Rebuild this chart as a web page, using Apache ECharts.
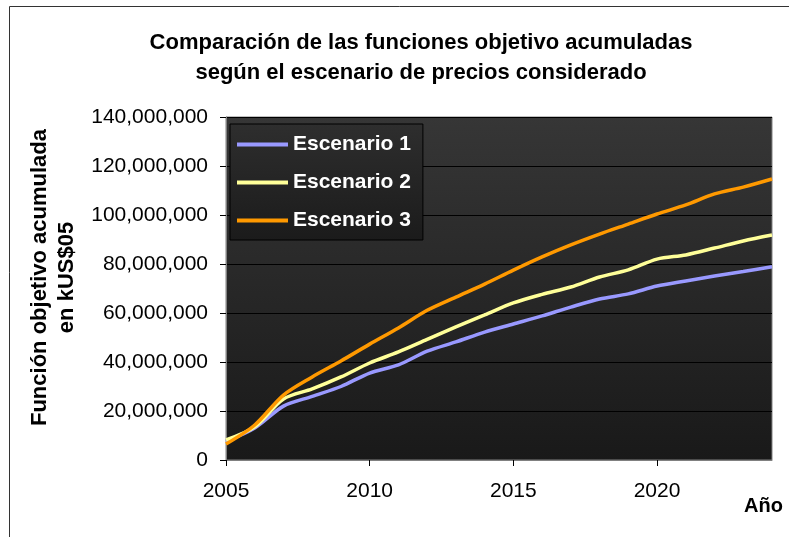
<!DOCTYPE html>
<html>
<head>
<meta charset="utf-8">
<script src="https://cdn.jsdelivr.net/npm/echarts@6/dist/echarts.min.js"></script>
<style>
  html, body { margin: 0; padding: 0; background: #fff; }
  #main { width: 789px; height: 537px; }
</style>
</head>
<body>
<div id="main"></div>
<script>
// años y valores (millones de kUS$05)
var years = [2005, 2006, 2007, 2008, 2009, 2010, 2011, 2012, 2013, 2014,
  2015, 2016, 2017, 2018, 2019, 2020, 2021, 2022, 2023, 2024];
var escenario1 = [7.6, 13.1, 22.0, 26.0, 30.0, 35.5, 38.8, 44.4, 48.2, 52.2,
  55.5, 58.8, 62.4, 65.7, 67.8, 71.0, 73.1, 75.1, 76.9, 78.9];
var escenario2 = [8.2, 13.5, 24.9, 29.0, 33.9, 39.6, 44.1, 49.2, 54.3, 59.2,
  64.1, 67.6, 70.6, 74.7, 77.6, 82.0, 83.7, 86.5, 89.4, 91.8];
var escenario3 = [6.5, 14.3, 26.5, 33.9, 40.4, 47.3, 53.9, 61.1, 66.5, 71.8,
  77.5, 82.9, 87.8, 92.2, 96.3, 100.4, 104.1, 108.6, 111.4, 114.7];
var xTicks = [2005, 2010, 2015, 2020];
var seriesNames = ["Escenario 1", "Escenario 2", "Escenario 3"];
var colors = ["#9999ff", "#ffff99", "#ff9900"];

function pairs(vals) {
  return years.map(function (y, i) { return [y, vals[i] * 1000000]; });
}

var chart = echarts.init(document.getElementById("main"));
var font = "Liberation Sans, Arial, sans-serif";

var option = {
  animation: false,
  color: colors,
  title: {
    text: "Comparación de las funciones objetivo acumuladas\nsegún el escenario de precios considerado",
    left: 416,
    textAlign: "center",
    top: 23,
    textStyle: {
      fontFamily: font,
      fontSize: 22,
      fontWeight: "bold",
      color: "#000",
      lineHeight: 30
    }
  },
  legend: {
    data: seriesNames,
    orient: "vertical",
    left: 230,
    top: 124,
    padding: [10, 12, 9, 7],
    itemGap: 17,
    itemWidth: 51,
    itemHeight: 4,
    icon: "rect",
    backgroundColor: {
      type: "linear", x: 0, y: 0, x2: 0, y2: 1,
      colorStops: [{ offset: 0, color: "#2e2e2e" }, { offset: 1, color: "#1b1b1b" }]
    },
    borderColor: "#000",
    borderWidth: 1,
    textStyle: {
      fontFamily: font,
      fontSize: 21,
      fontWeight: "bold",
      color: "#fff"
    }
  },
  grid: {
    left: 226,
    right: 17,
    top: 117,
    bottom: 77,
    show: true,
    borderColor: "#808080",
    borderWidth: 1,
    backgroundColor: {
      type: "linear", x: 0, y: 0, x2: 0, y2: 1,
      colorStops: [{ offset: 0, color: "#363636" }, { offset: 1, color: "#191919" }]
    }
  },
  xAxis: {
    type: "value",
    min: 2005,
    max: 2024,
    interval: 5,
    name: "Año",
    nameLocation: "end",
    nameGap: 11,
    nameTextStyle: {
      fontFamily: font,
      fontSize: 20,
      fontWeight: "bold",
      color: "#000",
      align: "right",
      verticalAlign: "top",
      padding: [36, 0, 0, 0]
    },
    axisLine: { lineStyle: { color: "#808080", width: 1 } },
    axisTick: { show: true, customValues: xTicks, length: 6, lineStyle: { color: "#000" } },
    axisLabel: {
      customValues: xTicks,
      margin: 21,
      fontFamily: font,
      fontSize: 21,
      color: "#000",
      formatter: function (v) { return String(v); }
    },
    splitLine: { show: false }
  },
  yAxis: {
    type: "value",
    min: 0,
    max: 140000000,
    interval: 20000000,
    name: "Función objetivo acumulada\nen kUS$05",
    nameLocation: "middle",
    nameGap: 142,
    nameRotate: 90,
    nameTextStyle: {
      fontFamily: font,
      fontSize: 22,
      fontWeight: "bold",
      color: "#000",
      lineHeight: 27,
      padding: [0, 0, 0, 22]
    },
    axisLine: { show: true, lineStyle: { color: "#808080", width: 1 } },
    axisTick: { show: true, length: 6, lineStyle: { color: "#000" } },
    axisLabel: {
      margin: 18,
      fontFamily: font,
      fontSize: 21,
      color: "#000",
      formatter: function (v) { return v.toLocaleString("en-US"); }
    },
    splitLine: { show: true, lineStyle: { color: "#000", width: 1 } }
  },
  graphic: [{
    type: "rect",
    silent: true,
    z: -1,
    shape: { x: 9.5, y: 6.5, width: 900, height: 900 },
    style: { fill: "none", stroke: "#333", lineWidth: 1 }
  }],
  series: [
    { name: seriesNames[0], type: "line", data: pairs(escenario1), symbol: "none", smooth: 0.3, lineStyle: { width: 3.5 } },
    { name: seriesNames[1], type: "line", data: pairs(escenario2), symbol: "none", smooth: 0.3, lineStyle: { width: 3.5 } },
    { name: seriesNames[2], type: "line", data: pairs(escenario3), symbol: "none", smooth: 0.3, lineStyle: { width: 3.5 } }
  ]
};

chart.setOption(option);
</script>
</body>
</html>
